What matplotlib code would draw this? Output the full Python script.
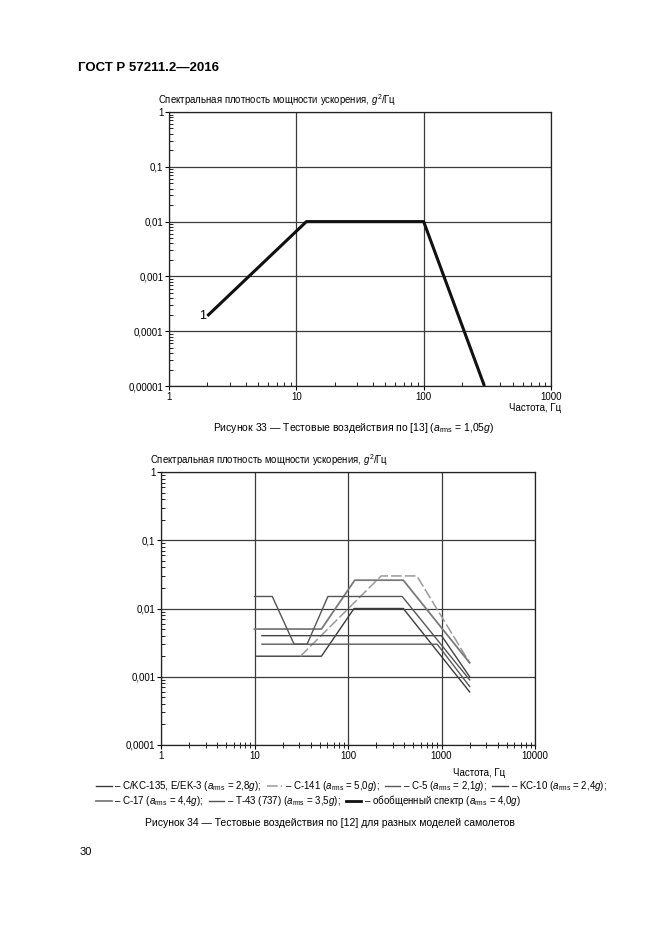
import matplotlib
matplotlib.use("Agg")
import matplotlib.pyplot as plt
from matplotlib.lines import Line2D
from matplotlib.ticker import LogLocator, NullFormatter

plt.rcParams['font.family'] = ['Liberation Sans', 'DejaVu Sans']
plt.rcParams['mathtext.fontset'] = 'custom'
plt.rcParams['mathtext.rm'] = 'Liberation Sans'
plt.rcParams['mathtext.it'] = 'Liberation Sans:italic'

# --- Figure 33 data ---
f33 = [2, 12, 100, 300]
psd33 = [0.00019, 0.01, 0.01, 0.00001]
y33_ticks = [1, 0.1, 0.01, 0.001, 0.0001, 0.00001]
y33_labels = ['1', '0,1', '0,01', '0,001', '0,0001', '0,00001']
x33_ticks = [1, 10, 100, 1000]
x33_labels = ['1', '10', '100', '1000']

# --- Figure 34 data ---
f_kc135 = [10.5, 52, 116, 390, 2000]
p_kc135 = [0.002, 0.002, 0.01, 0.01, 0.0006]
f_c141 = [31, 226, 545, 2000]
p_c141 = [0.002, 0.03, 0.03, 0.0016]
f_c5 = [12, 900, 2000]
p_c5 = [0.003, 0.003, 0.00072]
f_kc10 = [12, 1000, 2000]
p_kc10 = [0.004, 0.004, 0.001]
f_c17 = [10, 52, 118, 390, 2000]
p_c17 = [0.005, 0.005, 0.026, 0.026, 0.0016]
f_t43 = [10, 15.5, 26.5, 36.5, 61, 380, 2000]
p_t43 = [0.015, 0.015, 0.003, 0.003, 0.015, 0.015, 0.0009]

y34_ticks = [1, 0.1, 0.01, 0.001, 0.0001]
y34_labels = ['1', '0,1', '0,01', '0,001', '0,0001']
x34_ticks = [1, 10, 100, 1000, 10000]
x34_labels = ['1', '10', '100', '1000', '10000']

legend_row1 = [r'– C/KC-135, E/EK-3 ($a_{\rm rms}$ = 2,8$g$);',
               r'– C-141 ($a_{\rm rms}$ = 5,0$g$);',
               r'– C-5 ($a_{\rm rms}$ = 2,1$g$);',
               r'– KC-10 ($a_{\rm rms}$ = 2,4$g$);']
legend_row2 = [r'– C-17 ($a_{\rm rms}$ = 4,4$g$);',
               r'– T-43 (737) ($a_{\rm rms}$ = 3,5$g$);',
               r'– обобщенный спектр ($a_{\rm rms}$ = 4,0$g$)']

W, H = 661, 935
fig = plt.figure(figsize=(W / 100, H / 100), dpi=100)


def px_axes(left, top, right, bottom):
    return fig.add_axes([left / W, 1 - bottom / H, (right - left) / W, (bottom - top) / H])


def style_axes(ax, xt, xl, yt, yl, xlim, ylim):
    ax.set_xscale('log')
    ax.set_yscale('log')
    ax.set_xlim(*xlim)
    ax.set_ylim(*ylim)
    ax.set_xticks(xt, xl)
    ax.set_yticks(yt, yl)
    ax.xaxis.set_minor_locator(LogLocator(base=10, subs=range(2, 10), numticks=20))
    ax.yaxis.set_minor_locator(LogLocator(base=10, subs=range(2, 10), numticks=20))
    ax.xaxis.set_minor_formatter(NullFormatter())
    ax.yaxis.set_minor_formatter(NullFormatter())
    ax.tick_params(which='major', direction='out', length=3, width=0.8, labelsize=7, pad=1)
    ax.tick_params(which='minor', direction='in', length=3, width=0.6)
    ax.grid(True, which='major', color='#3a3a3a', lw=0.9)
    for s in ax.spines.values():
        s.set_color('#222222')
        s.set_linewidth(0.9)


fig.text(78 / W, 1 - 68 / H, 'ГОСТ Р 57211.2—2016', fontsize=9.5, fontweight='bold',
         ha='left', va='center')

# ---------- Figure 33 ----------
ax1 = px_axes(169, 112, 551, 386)
style_axes(ax1, x33_ticks, x33_labels, y33_ticks, y33_labels, (1, 1000), (1e-5, 1))
ax1.plot(f33, psd33, color='#111111', lw=2.2, solid_capstyle='butt')
ax1.annotate('1', (f33[0], psd33[0]), xytext=(-1, 0), textcoords='offset points',
             ha='right', va='center', fontsize=9)
fig.text(158 / W, 1 - 100 / H, r'Спектральная плотность мощности ускорения, $g^2$/Гц',
         fontsize=6.9, ha='left', va='center')
fig.text(561 / W, 1 - 408 / H, 'Частота, Гц', fontsize=7, ha='right', va='center')
fig.text(354 / W, 1 - 428 / H,
         r'Рисунок 33 — Тестовые воздействия по [13] ($a_{\rm rms}$ = 1,05$g$)',
         fontsize=7.5, ha='center', va='center')

# ---------- Figure 34 ----------
ax2 = px_axes(161, 472, 535, 745)
style_axes(ax2, x34_ticks, x34_labels, y34_ticks, y34_labels, (1, 10000), (1e-4, 1))
ax2.tick_params(axis='x', which='minor', direction='inout', length=4)

l_kc135, = ax2.plot(f_kc135, p_kc135, color='#3c3c3c', lw=1.0)
l_c141, = ax2.plot(f_c141, p_c141, color='#9a9a9a', lw=1.1, ls=(0, (7, 2)))
l_c5, = ax2.plot(f_c5, p_c5, color='#5a5a5a', lw=1.0)
l_kc10, = ax2.plot(f_kc10, p_kc10, color='#444444', lw=1.0)
l_c17, = ax2.plot(f_c17, p_c17, color='#7a7a7a', lw=1.3)
l_t43, = ax2.plot(f_t43, p_t43, color='#555555', lw=1.0)
l_gen = Line2D([], [], color='#111111', lw=2.0)

fig.text(150 / W, 1 - 460 / H, r'Спектральная плотность мощности ускорения, $g^2$/Гц',
         fontsize=6.9, ha='left', va='center')
fig.text(505 / W, 1 - 773 / H, 'Частота, Гц', fontsize=7, ha='right', va='center')

leg_kw = dict(frameon=False, fontsize=7, handlelength=1.6, handletextpad=0.3,
              columnspacing=0.5, borderaxespad=0, borderpad=0, loc='center left')
leg1 = fig.legend([l_kc135, l_c141, l_c5, l_kc10], legend_row1, ncol=4,
                  bbox_to_anchor=(96 / W, 1 - 786 / H), **leg_kw)
leg2 = fig.legend([l_c17, l_t43, l_gen], legend_row2, ncol=3,
                  bbox_to_anchor=(96 / W, 1 - 801 / H), **leg_kw)

fig.text(330 / W, 1 - 823 / H,
         'Рисунок 34 — Тестовые воздействия по [12] для разных моделей самолетов',
         fontsize=7.5, ha='center', va='center')
fig.text(80 / W, 1 - 852 / H, '30', fontsize=8, ha='left', va='center')

fig.savefig('out.png', dpi=100)
